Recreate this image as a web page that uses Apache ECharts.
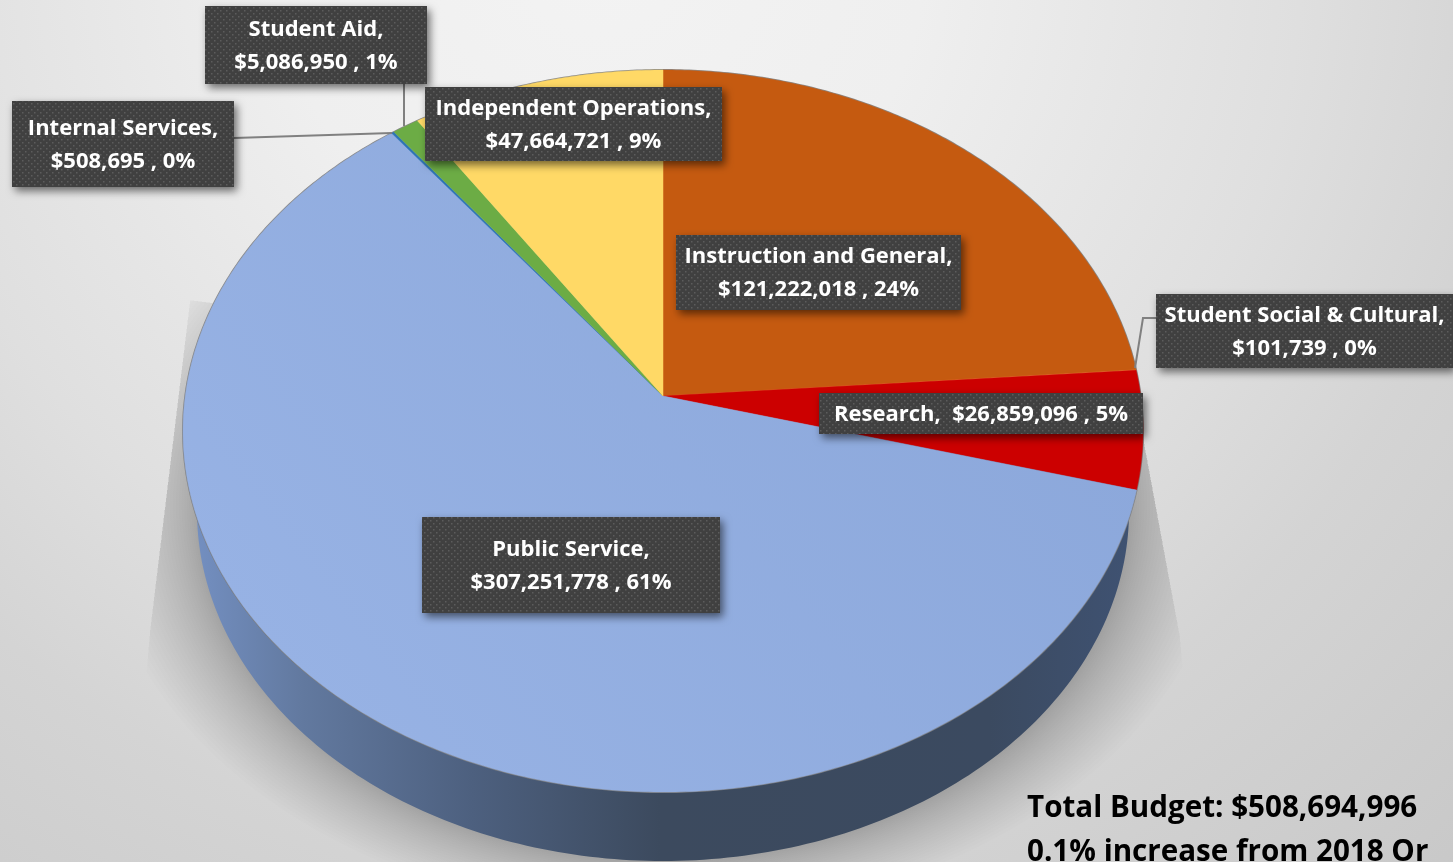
<!DOCTYPE html>
<html>
<head>
<meta charset="utf-8">
<title>Budget</title>
<style>
    html, body { margin: 0; padding: 0; background: #ddd; }
    #main { width: 1453px; height: 862px; overflow: hidden; }
</style>
<script src="https://cdn.jsdelivr.net/npm/echarts@6/dist/echarts.min.js"></script>
</head>
<body>
<div id="main"></div>
<script>
    // clockwise from 12 o'clock
    const categories = ['Instruction and General', 'Student Social & Cultural', 'Research', 'Public Service', 'Internal Services', 'Student Aid', 'Independent Operations']
    const budgetValues = [121222018, 101739, 26859096, 307251778, 508695, 5086950, 47664721]
    const percentLabels = [24, 0, 5, 61, 0, 1, 9]
    const totalLines = ['Total Budget: $508,694,996', '0.1% increase from 2018 Or']

    const sliceColors = ['#C55A10', '#E8792E', '#CC0000', null, '#2E75B6', '#6CAC45', '#FFD966']
    // label box rectangles [x, y, w, h], same order as categories
    const labelBoxes = [[676, 235, 285, 75], [1156, 294, 297, 74], [819, 393, 324, 41], [422, 517, 298, 96], [12, 101, 222, 86], [205, 6, 222, 78], [425, 87, 297, 74]]
    const leaderLines = [null, [[1156, 318], [1143, 318], [1135, 368]], null, null, [[234, 138], [392, 133]], [[404, 84], [404, 126]], null]

    const sum = budgetValues.reduce((a, b) => a + b, 0)
    const starts = []
    budgetValues.reduce((acc, v, i) => { starts[i] = acc; return acc + v }, 0)

    // perspective disc: the apex sits above the middle of the ellipse
    const CX = 663, CY = 396, A = 477.7, B = 357.6, K = 0.097
    function project(angle) {
        const u = Math.sin(angle), v = -Math.cos(angle), w = 1 - K * v
        return [CX + A * u / w, CY + B * v / w]
    }
    function arc(a0, a1) {
        const n = Math.max(2, Math.ceil(Math.abs(a1 - a0) / 0.01)), pts = []
        for (let i = 0; i <= n; i++) pts.push(project(a0 + (a1 - a0) * i / n))
        return pts
    }
    function ellipse(rx, ry, cy, t0, t1) {
        const pts = []
        for (let i = 0; i <= 180; i++) {
            const t = t0 + (t1 - t0) * i / 180
            pts.push([663 + rx * Math.cos(t), cy + ry * Math.sin(t)])
        }
        return pts
    }
    const fullTop = arc(0, Math.PI * 2)
    const hull = [[1143, 431]].concat(ellipse(466, 350, 511, 0, Math.PI), [[183, 431]])

    // soft cast shadow: stacked translucent rings, cut by the trapezoid seen in the original
    const shadowClip = [[190, 300], [150, 630], [130, 862], [1200, 862], [1180, 636], [1140, 420]]
    function shadowRings() {
        const rings = []
        for (let i = 1; i <= 30; i++) {
            const d = 62 * Math.pow(i / 30, 1.4)
            rings.push({
                type: 'polygon',
                shape: { points: ellipse(466 + d * 1.6, 350 + d, 505, 0, Math.PI * 2) },
                style: { fill: 'rgba(0,0,0,0.0075)' },
                clipPath: { type: 'polygon', shape: { points: shadowClip } }
            })
        }
        return rings
    }

    function dots() {
        const c = document.createElement('canvas')
        c.width = 6; c.height = 6
        const g = c.getContext('2d')
        g.fillStyle = '#404040'; g.fillRect(0, 0, 6, 6)
        g.fillStyle = '#5c5c5c'
        g.fillRect(1, 1, 1.5, 1.5); g.fillRect(4, 4, 1.5, 1.5)
        return c
    }
    const dotPattern = { image: dots(), repeat: 'repeat' }

    function money(v) { return '$' + v.toLocaleString('en-US') }
    function labelText(i) {
        const tail = money(budgetValues[i]) + ' , ' + percentLabels[i] + '%'
        return i === 2 ? categories[i] + ',  ' + tail : categories[i] + ',\n' + tail
    }

    const grad = (x0, y0, x1, y1, stops) => new echarts.graphic.LinearGradient(x0, y0, x1, y1, stops, true)
    const blueFill = grad(1000, 150, 300, 700, [{ offset: 0, color: '#8BA7DA' }, { offset: 1, color: '#97B2E4' }])
    const wallFill = grad(190, 0, 1130, 0, [
        { offset: 0, color: '#7490C2' }, { offset: 0.12, color: '#62799F' }, { offset: 0.3, color: '#4D607F' },
        { offset: 0.5, color: '#3C4A5E' }, { offset: 0.85, color: '#3B4A60' }, { offset: 1, color: '#3F5272' }
    ])
    const LABEL_FONT = '"Open Sans", "Noto Sans", sans-serif'

    const myChart = echarts.init(document.getElementById('main'))
    myChart.setOption({
        animation: false,
        backgroundColor: new echarts.graphic.RadialGradient(600, -50, 1300, [
            { offset: 0, color: '#F3F3F3' }, { offset: 0.25, color: '#EFEFEF' }, { offset: 0.54, color: '#DFDFDF' },
            { offset: 0.7, color: '#D4D4D4' }, { offset: 1, color: '#C7C7C7' }
        ], true),
        series: [{
            // shadow and side wall
            type: 'custom',
            coordinateSystem: 'none',
            z: 1,
            data: [0],
            renderItem() {
                return {
                    type: 'group',
                    children: shadowRings().concat([{
                        type: 'polygon',
                        shape: { points: hull },
                        style: { fill: wallFill }
                    }, {
                        type: 'polygon',
                        shape: { points: fullTop },
                        style: { fill: 'none', stroke: 'rgba(125,125,125,0.9)', lineWidth: 2 }
                    }])
                }
            }
        }, {
            // top face slices
            type: 'custom',
            coordinateSystem: 'none',
            z: 2,
            data: budgetValues.map((v, i) => [i, v]),
            renderItem(params, api) {
                const i = api.value(0), v = api.value(1)
                const a0 = starts[i] / sum * Math.PI * 2
                const a1 = (starts[i] + v) / sum * Math.PI * 2
                const fill = sliceColors[i] || blueFill
                return {
                    type: 'polygon',
                    shape: { points: [[CX, CY]].concat(arc(a0, a1)) },
                    style: { fill: fill, stroke: fill, lineWidth: 0.5 }
                }
            }
        }, {
            // leader lines
            type: 'custom',
            coordinateSystem: 'none',
            z: 3,
            data: categories.map((c, i) => [i]),
            renderItem(params, api) {
                const pts = leaderLines[api.value(0)]
                if (!pts) return null
                return { type: 'polyline', shape: { points: pts }, style: { fill: 'none', stroke: '#808080', lineWidth: 2 } }
            }
        }, {
            // data label boxes
            type: 'custom',
            coordinateSystem: 'none',
            z: 4,
            data: categories.map((c, i) => [i]),
            renderItem(params, api) {
                const i = api.value(0), b = labelBoxes[i]
                return {
                    type: 'group',
                    children: [{
                        type: 'rect',
                        shape: { x: b[0], y: b[1], width: b[2], height: b[3] },
                        style: { fill: dotPattern, shadowBlur: 8, shadowOffsetX: 3, shadowOffsetY: 4, shadowColor: 'rgba(0,0,0,0.55)' }
                    }, {
                        type: 'text',
                        style: {
                            text: labelText(i),
                            x: b[0] + b[2] / 2,
                            y: b[1] + b[3] / 2 + 1,
                            align: 'center',
                            verticalAlign: 'middle',
                            fill: '#FFFFFF',
                            fontFamily: LABEL_FONT,
                            fontWeight: 700,
                            fontSize: 22,
                            lineHeight: 33
                        }
                    }]
                }
            }
        }, {
            // total note, runs off the page like the original
            type: 'custom',
            coordinateSystem: 'none',
            z: 5,
            data: totalLines.map((t, i) => [i]),
            renderItem(params, api) {
                const i = api.value(0)
                return {
                    type: 'text',
                    style: {
                        text: totalLines[i],
                        x: 1027,
                        y: 809 + i * 44,
                        align: 'left',
                        verticalAlign: 'middle',
                        fill: '#000000',
                        fontFamily: LABEL_FONT,
                        fontWeight: 700,
                        fontSize: 29.6
                    }
                }
            }
        }]
    })
</script>
</body>
</html>
